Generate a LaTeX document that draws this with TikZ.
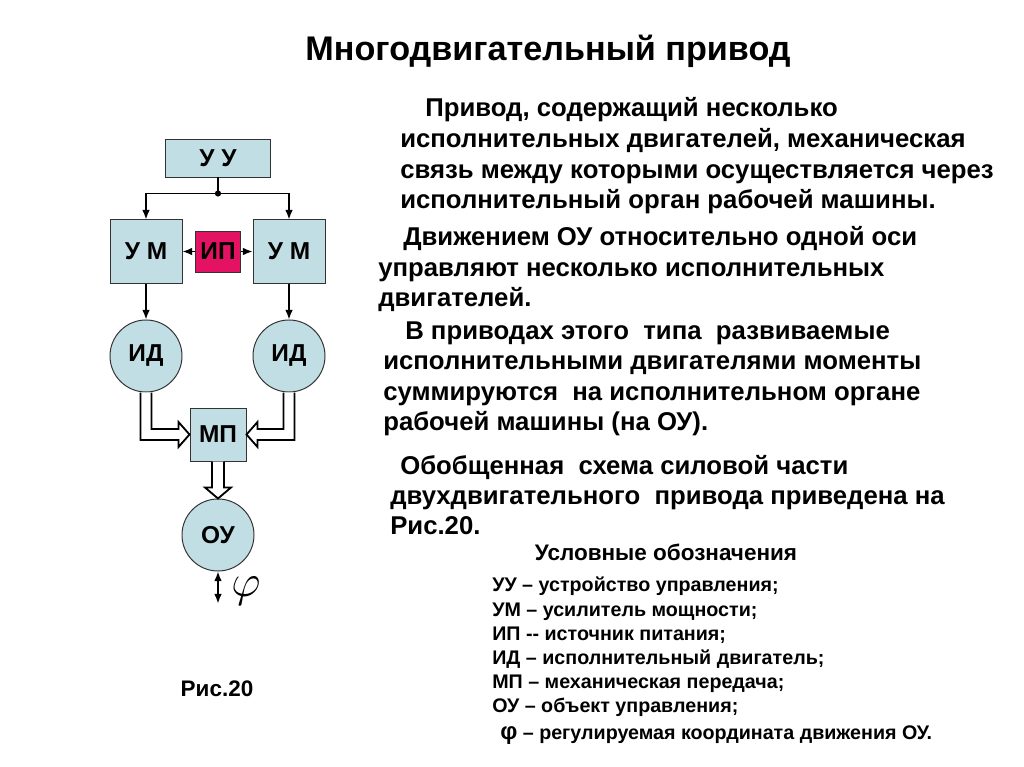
\documentclass[tikz,border=0pt]{standalone}
\usepackage{fontspec}
\setmainfont{Liberation Sans}
\usetikzlibrary{calc,positioning,arrows.meta}
\definecolor{boxblue}{RGB}{192,222,228}
\definecolor{ipred}{RGB}{228,18,98}
\newcommand\txtfont{\fontsize{18.3}{21}\selectfont\bfseries}
\newcommand\legfont{\fontsize{14}{16}\selectfont\bfseries}

\begin{document}
\begin{tikzpicture}[x=0.025cm, y=-0.025cm,
  blk/.style={draw=black!80, line width=0.7pt, fill=boxblue, inner sep=0pt,
    font=\fontsize{17.4}{18}\selectfont\bfseries},
  sig/.style={line width=1pt, -{Latex[length=2.4mm, width=1.9mm]}},
  hollow/.style={line width=1.3pt, fill=white, line join=miter},
  line/.style={anchor=base west, inner sep=0pt, font=\txtfont},
  leg/.style={anchor=base west, inner sep=0pt, font=\legfont}]
  \useasboundingbox (0,0) rectangle (1024,767);
  % blocks
  \node[blk, minimum width=2.6cm, minimum height=0.95cm] (uu) at (218,158) {У У};
  \node[blk, minimum width=1.8cm, minimum height=1.575cm] (uml) at (146,251.5) {У М};
  \node[blk, minimum width=1.8cm, minimum height=1.575cm] (umr) at (289,251.5) {У М};
  \node[blk, fill=ipred, minimum width=1.125cm, minimum height=1.025cm] (ip) at (218,251.5) {ИП};
  \node[blk, circle, minimum size=1.8cm] (idl) at (146,356) {ИД};
  \node[blk, circle, minimum size=1.8cm] (idr) at (289,356) {ИД};
  \node[blk, minimum width=1.4cm, minimum height=1.325cm] (mp) at (218,434.5) {МП};
  \node[blk, circle, minimum size=1.8cm] (ou) at (218,535) {ОУ};
  % signal lines
  \draw[line width=1pt] (uu.south) -- ++(0,16) coordinate (jn);
  \draw[sig] (jn) -| (uml.north);
  \draw[sig] (jn) -| (umr.north);
  \fill (jn) circle (2.2pt);
  \draw[sig] (ip.west) -- (uml.east);
  \draw[sig] (ip.east) -- (umr.west);
  \draw[sig] (uml.south) -- (idl.north);
  \draw[sig] (umr.south) -- (idr.north);
  % mechanical links
  \draw[hollow] ($(idl.south)+(-5.5,0)$) |- ($(mp.west)+(-11,5.5)$) -- ++(0,7)
    -- (mp.west) -- ($(mp.west)+(-11,-12.5)$) -- ++(0,7) -| ($(idl.south)+(5.5,0)$);
  \draw[hollow] ($(idr.south)+(5.5,0)$) |- ($(mp.east)+(11,5.5)$) -- ++(0,7)
    -- (mp.east) -- ($(mp.east)+(11,-12.5)$) -- ++(0,7) -| ($(idr.south)+(-5.5,0)$);
  \draw[hollow] ($(mp.south)+(-6,0)$) -- ($(ou.north)+(-6,-11)$) -- ++(-7,0)
    -- (ou.north) -- ($(ou.north)+(13,-11)$) -- ++(-7,0) -- ($(mp.south)+(6,0)$);
  % output coordinate
  \draw[line width=1pt, {Latex[length=2.4mm, width=1.9mm]}-{Latex[length=2.4mm, width=1.9mm]}]
    (ou.south) -- ++(0,32) coordinate (phiend);
  \node[inner sep=0pt, font=\fontsize{24}{24}\selectfont] (phi) at ($(phiend)+(28,-12)$) {\scalebox{1.3}{$\varphi$}};
  \node[anchor=base, font=\fontsize{16}{18}\selectfont\bfseries] (fig) at (217,696) {Рис.20};
  % title and text
  \node[anchor=base, font=\fontsize{24.3}{28}\selectfont\bfseries] (title) at (548,61) {Многодвигательный привод};
  \node[line] (t1) at (425,117) {Привод, содержащий несколько};
  \node[line] (t2) at (400,148) {исполнительных двигателей, механическая};
  \node[line] (t3) at (400,179) {связь между которыми осуществляется через};
  \node[line] (t4) at (400,209) {исполнительный орган рабочей машины.};
  \node[line] (t5) at (403,246) {Движением ОУ относительно одной оси};
  \node[line] (t6) at (378,276) {управляют несколько исполнительных};
  \node[line] (t7) at (378,306) {двигателей.};
  \node[line] (t8) at (405,339) {В приводах этого\ \ типа\ \ развиваемые};
  \node[line] (t9) at (383,369) {исполнительными двигателями моменты};
  \node[line] (t10) at (383,400) {суммируются\ \ на исполнительном органе};
  \node[line] (t11) at (383,430) {рабочей машины (на ОУ).};
  \node[line] (t12) at (400,474) {Обобщенная\ \ схема силовой части};
  \node[line] (t13) at (390,504) {двухдвигательного\ \ привода приведена на};
  \node[line] (t14) at (390,534) {Рис.20.};
  % legend
  \node[anchor=base, font=\fontsize{16}{18}\selectfont\bfseries] (leghead) at (666,560) {Условные обозначения};
  \node[leg] (l1) at (492,591) {УУ – устройство управления;};
  \node[leg] (l2) at (492,616) {УМ – усилитель мощности;};
  \node[leg] (l3) at (492,640) {ИП -\/- источник питания;};
  \node[leg] (l4) at (492,664) {ИД – исполнительный двигатель;};
  \node[leg] (l5) at (492,688) {МП – механическая передача;};
  \node[leg] (l6) at (492,712) {ОУ – объект управления;};
  \node[leg] (l7) at (500,739) {{\fontsize{17}{16}\selectfont φ} – регулируемая координата движения ОУ.};
\end{tikzpicture}
\end{document}
